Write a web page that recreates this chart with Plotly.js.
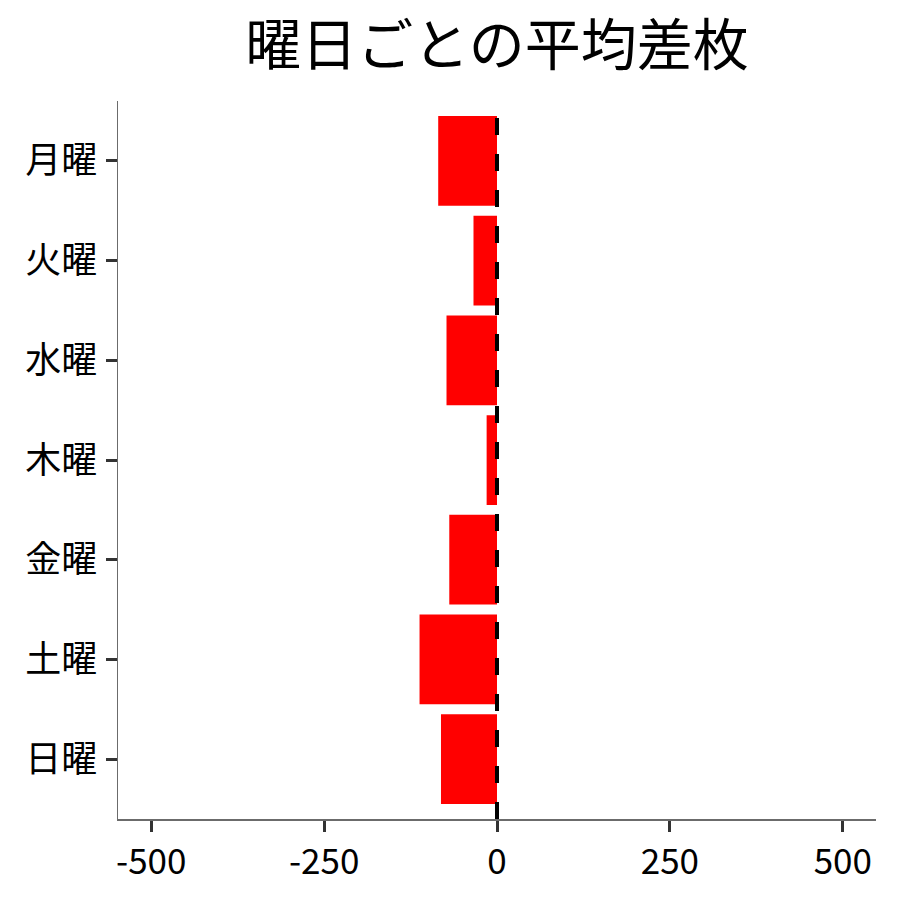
<!DOCTYPE html>
<html>
<head>
<meta charset="utf-8">
<script src="https://cdn.plot.ly/plotly-3.0.1.min.js"></script>
<style>html,body{margin:0;padding:0;background:#fff;}#chart{width:900px;height:900px;}</style>
</head>
<body>
<div id="chart"></div>
<script>
const days = ["月曜", "火曜", "水曜", "木曜", "金曜", "土曜", "日曜"];
const avgDiff = [-85, -34, -73, -15, -69, -112, -81];
const xTicks = [-500, -250, 0, 250, 500];
const xTickText = ["-500", "-250", "0", "250", "500"];
const titleText = "曜日ごとの平均差枚";

const FONT = "Noto Sans CJK JP, Noto Sans, sans-serif";

const trace = {
  type: "bar",
  orientation: "h",
  x: avgDiff,
  y: days,
  marker: { color: "#ff0000", line: { width: 0 } },
  hoverinfo: "x+y"
};

const layout = {
  width: 900,
  height: 900,
  paper_bgcolor: "#ffffff",
  plot_bgcolor: "#ffffff",
  margin: { l: 118, r: 24, t: 101, b: 81 },
  bargap: 0.1,
  showlegend: false,
  font: { family: FONT, color: "#000000" },
  title: {
    text: titleText,
    font: { family: FONT, size: 56, color: "#000000" },
    x: 0.5,
    xref: "paper",
    xanchor: "center",
    y: 0.95,
    yref: "container",
    yanchor: "middle"
  },
  xaxis: {
    range: [-548, 548],
    tickvals: xTicks,
    ticktext: xTickText,
    showgrid: false,
    zeroline: false,
    showline: true,
    linecolor: "#6b6b6b",
    linewidth: 1.5,
    ticks: "outside",
    ticklen: 11,
    tickwidth: 3,
    tickcolor: "#333333",
    tickfont: { family: FONT, size: 35, color: "#000000" }
  },
  yaxis: {
    type: "category",
    categoryorder: "array",
    categoryarray: days,
    autorange: false,
    range: [6.6, -0.6],
    showgrid: false,
    zeroline: false,
    showline: true,
    linecolor: "#6b6b6b",
    linewidth: 1.5,
    ticks: "outside",
    ticklen: 11,
    tickwidth: 3,
    tickcolor: "#333333",
    ticklabelstandoff: 1,
    tickfont: { family: FONT, size: 36, color: "#000000" }
  },
  shapes: [{
    type: "line",
    xref: "x",
    yref: "paper",
    x0: 0, x1: 0,
    y0: 0, y1: 1,
    line: { color: "#000000", width: 4, dash: "17px,19px" }
  }]
};

Plotly.newPlot("chart", [trace], layout, { displayModeBar: false, staticPlot: true });
</script>
</body>
</html>
